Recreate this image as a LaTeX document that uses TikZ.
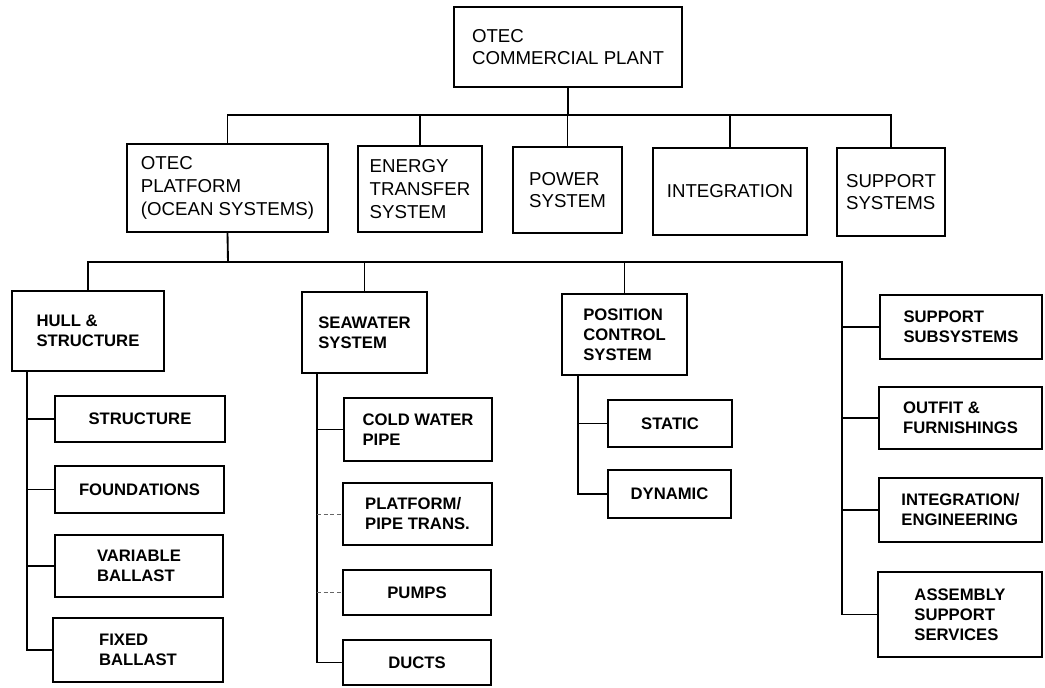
\documentclass[tikz,border=0pt]{standalone}
\usepackage{fontspec}
\setmainfont{Liberation Sans}
\usetikzlibrary{calc}
\begin{document}
\begin{tikzpicture}[x=0.75pt,y=-0.75pt,
  lvl/.style={draw, line width=1.5pt, inner sep=0pt, align=left, font=\fontsize{14}{17}\selectfont},
  sub/.style={draw, line width=1.5pt, inner sep=0pt, align=left, font=\bfseries\fontsize{12.5}{15}\selectfont},
  conn/.style={line width=1.4pt},
  faint/.style={line width=0.7pt, dash pattern=on 3pt off 2pt, black!60}]
\fill[white] (0,0) rectangle (1045,688);
\useasboundingbox (0,0) rectangle (1045,688);
% level 1
\node[lvl, minimum width=171pt, minimum height=60pt] (top) at (568,47) {OTEC\\COMMERCIAL PLANT};
% level 2
\node[lvl, minimum width=150.75pt, minimum height=66pt] (plat) at (227.5,188) {OTEC\\PLATFORM\\(OCEAN SYSTEMS)};
\node[lvl, minimum width=93pt, minimum height=64.5pt] (energy) at (420,189) {ENERGY\\TRANSFER\\SYSTEM};
\node[lvl, minimum width=81.75pt, minimum height=64.5pt] (power) at (567.5,190) {POWER\\SYSTEM};
\node[lvl, minimum width=115.5pt, minimum height=65.25pt] (integ) at (730,191.5) {INTEGRATION};
\node[lvl, minimum width=81pt, minimum height=66pt] (supp) at (891,192) {SUPPORT\\SYSTEMS};
% level 3
\node[sub, minimum width=114pt, minimum height=60pt] (hull) at (88,331) {HULL \&\\STRUCTURE};
\node[sub, minimum width=93.75pt, minimum height=60.75pt] (sea) at (364.5,332.5) {SEAWATER\\SYSTEM};
\node[sub, minimum width=93.75pt, minimum height=60.75pt] (pos) at (624.5,334.5) {POSITION\\CONTROL\\SYSTEM};
% hull children
\node[sub, minimum width=127.5pt, minimum height=34.5pt] (struct) at (140,419) {STRUCTURE};
\node[sub, minimum width=126.75pt, minimum height=35.25pt] (found) at (139.5,489.5) {FOUNDATIONS};
\node[sub, minimum width=126pt, minimum height=46.5pt] (varb) at (139,566) {VARIABLE\\BALLAST};
\node[sub, minimum width=127.5pt, minimum height=48pt] (fixb) at (138,650) {FIXED\\BALLAST};
% seawater children
\node[sub, minimum width=111pt, minimum height=47.25pt] (cwp) at (418,429.5) {COLD WATER\\PIPE};
\node[sub, minimum width=111.75pt, minimum height=46.5pt] (ppt) at (417.5,514) {PLATFORM/\\PIPE TRANS.};
\node[sub, minimum width=111pt, minimum height=33.75pt] (pumps) at (417,592.5) {PUMPS};
\node[sub, minimum width=111pt, minimum height=33.75pt] (ducts) at (417,662.5) {DUCTS};
% position children
\node[sub, minimum width=93pt, minimum height=35.25pt] (static) at (670,423.5) {STATIC};
\node[sub, minimum width=92.25pt, minimum height=36pt] (dyn) at (669.5,494) {DYNAMIC};
% support children
\node[sub, minimum width=121.5pt, minimum height=48pt] (ss) at (961,327) {SUPPORT\\SUBSYSTEMS};
\node[sub, minimum width=122.25pt, minimum height=46.5pt] (outfit) at (960.5,418) {OUTFIT \&\\FURNISHINGS};
\node[sub, minimum width=122.25pt, minimum height=48pt] (ie) at (960.5,510) {INTEGRATION/\\ENGINEERING};
\node[sub, minimum width=123pt, minimum height=63.75pt] (asm) at (960,614.5) {ASSEMBLY\\SUPPORT\\SERVICES};
% connectors level 1 -> 2
\coordinate (bus1) at (568,115);
\draw[conn] (top.south) -- (bus1);
\foreach \n in {plat,energy,power,integ,supp} \draw[conn] (bus1) -| (\n.north);
% platform -> level 3
\coordinate (bus2) at (228,262);
\draw[conn] (plat.south) -- (bus2);
\foreach \n in {hull,sea,pos} \draw[conn] (bus2) -| (\n.north);
\coordinate (rsp) at (842,614.5);
\draw[conn] (bus2) -| (rsp) -- (asm.west);
\foreach \n in {ss,outfit,ie} \draw[conn] (\n.west -| rsp) -- (\n.west);
% hull spine
\coordinate (hsp) at (27,371);
\draw[conn] (hsp) |- (fixb.west);
\foreach \n in {struct,found,varb} \draw[conn] (\n.west -| hsp) -- (\n.west);
% seawater spine
\coordinate (ssp) at (317,373);
\draw[conn] (ssp) |- (ducts.west);
\draw[conn] (cwp.west -| ssp) -- (cwp.west);
\draw[faint] (ppt.west -| ssp) -- (ppt.west);
\draw[faint] (pumps.west -| ssp) -- (pumps.west);
% position spine
\coordinate (psp) at (578,375);
\draw[conn] (psp) |- (dyn.west);
\draw[conn] (static.west -| psp) -- (static.west);
\end{tikzpicture}
\end{document}
